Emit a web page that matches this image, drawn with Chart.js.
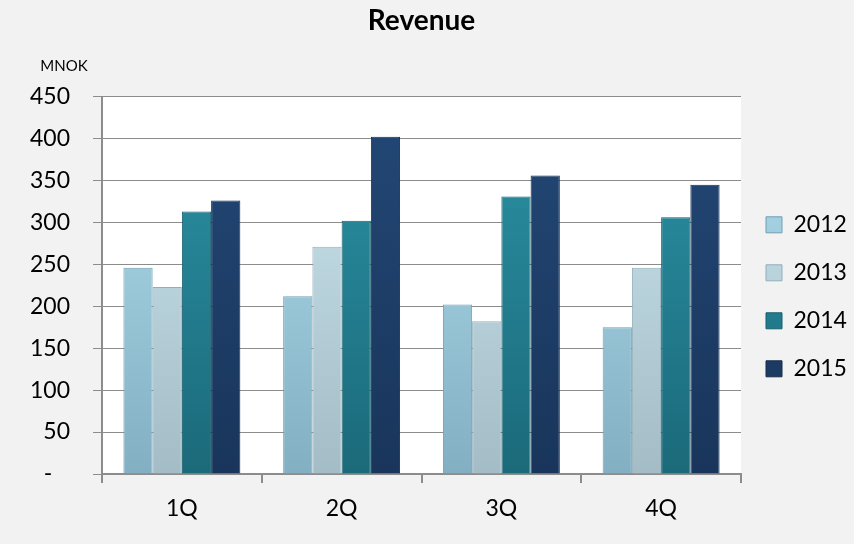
<!DOCTYPE html>
<html>
<head>
<meta charset="utf-8">
<script src="https://cdn.jsdelivr.net/npm/chart.js@4"></script>
<style>
  html, body { margin: 0; padding: 0; background: #f2f2f2; }
  canvas { display: block; }
</style>
</head>
<body>
<canvas id="c" width="854" height="544"></canvas>
<script>
const categories = ['1Q', '2Q', '3Q', '4Q'];
const years = ['2012', '2013', '2014', '2015'];
const rev2012 = [246, 212, 202, 175];
const rev2013 = [223, 271, 182, 246];
const rev2014 = [313, 302, 331, 306];
const rev2015 = [326, 402, 356, 345];
const yTicks = [0, 50, 100, 150, 200, 250, 300, 350, 400, 450];
const unitLabel = 'MNOK';
const chartTitle = 'Revenue';

const palette = [
  { top: '#b2e0ef', bottom: '#82afc2', solid: '#9fcfe0', border: '#6f9fb3' },
  { top: '#cde7f0', bottom: '#a3bcc6', solid: '#bcdbe6', border: '#93aeb9' },
  { top: '#2b93a6', bottom: '#1b6a7a', solid: '#237f92', border: '#175f6e' },
  { top: '#234876', bottom: '#19355b', solid: '#1f3f6a', border: '#142c4c' }
];

function grad(i) {
  return (ctx) => {
    const chart = ctx.chart;
    const area = chart.chartArea;
    if (!area) return palette[i].solid;
    const g = chart.ctx.createLinearGradient(0, area.top, 0, area.bottom);
    g.addColorStop(0, palette[i].top);
    g.addColorStop(1, palette[i].bottom);
    return g;
  };
}

const series = [rev2012, rev2013, rev2014, rev2015];
const datasets = series.map((vals, i) => ({
  label: years[i],
  data: vals,
  backgroundColor: grad(i),
  borderColor: palette[i].border,
  borderWidth: 1,
  borderSkipped: 'bottom',
  categoryPercentage: 0.732,
  barPercentage: 1.0
}));

const plotBg = {
  id: 'plotBg',
  beforeDraw(chart) {
    const { ctx, chartArea: a } = chart;
    ctx.save();
    ctx.fillStyle = '#ffffff';
    ctx.fillRect(a.left, a.top, a.right - a.left, a.bottom - a.top);
    ctx.restore();
  },
  afterDraw(chart) {
    const { ctx } = chart;
    ctx.save();
    ctx.fillStyle = '#000000';
    ctx.font = '15px Lato';
    ctx.textAlign = 'center';
    ctx.textBaseline = 'middle';
    ctx.fillText(unitLabel, 64, 66);
    ctx.restore();
  }
};

const gridColor = '#8c8c8c';

new Chart(document.getElementById('c'), {
  type: 'bar',
  data: { labels: categories, datasets },
  plugins: [plotBg],
  options: {
    responsive: false,
    animation: false,
    layout: { padding: 0 },
    plugins: {
      title: {
        display: true,
        text: chartTitle,
        fullSize: false,
        color: '#000',
        font: { family: 'Lato', size: 28, weight: 'bold' },
        padding: { top: 4, bottom: 59 }
      },
      legend: {
        position: 'right',
        fullSize: false,
        maxWidth: 113,
        title: { display: true, text: '', font: { size: 10 }, padding: { top: 0, bottom: 11 } },
        labels: {
          color: '#000',
          font: { family: 'Lato', size: 23 },
          boxWidth: 16,
          boxHeight: 16,
          padding: 25
        }
      },
      tooltip: { enabled: false }
    },
    scales: {
      x: {
        offset: true,
        grid: {
          display: true,
          offset: true,
          drawOnChartArea: false,
          drawTicks: true,
          tickLength: 9,
          color: gridColor,
          lineWidth: 2
        },
        border: { display: true, color: gridColor, width: 2 },
        ticks: {
          color: '#000',
          font: { family: 'Lato', size: 23 },
          padding: 12
        },
        afterFit(scale) { scale.height = 70; }
      },
      y: {
        min: 0,
        max: 450,
        afterBuildTicks(scale) { scale.ticks = yTicks.map(v => ({ value: v })); },
        grid: {
          color: gridColor,
          lineWidth: 1,
          drawTicks: true,
          tickLength: 9
        },
        border: { display: true, color: gridColor, width: 2 },
        ticks: {
          color: '#000',
          font: { family: 'Lato', size: 23 },
          padding: 23,
          callback: (v) => v === 0 ? '-   ' : String(v)
        },
        afterFit(scale) { scale.width = 102; }
      }
    }
  }
});
</script>
</body>
</html>
